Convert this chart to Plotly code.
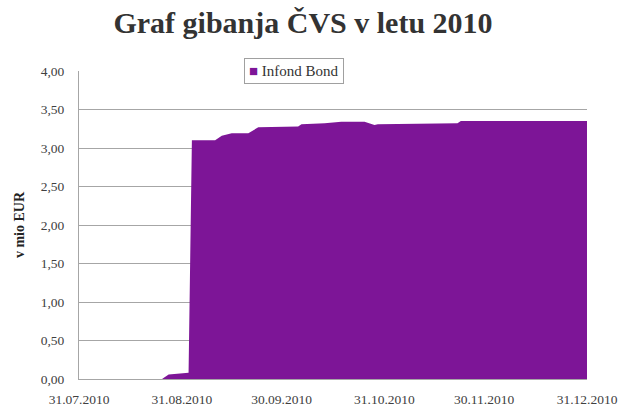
import plotly.graph_objects as go

# Net asset value of the fund (mio EUR) on selected dates of 2010
dates = [
    "2010-08-25", "2010-08-27", "2010-09-02", "2010-09-03", "2010-09-10",
    "2010-09-12", "2010-09-15", "2010-09-20", "2010-09-23", "2010-10-05",
    "2010-10-06", "2010-10-13", "2010-10-18", "2010-10-25", "2010-10-28",
    "2010-10-29", "2010-11-22", "2010-11-23", "2010-12-31",
]
values = [
    0.00, 0.06, 0.08, 3.10, 3.10,
    3.16, 3.19, 3.19, 3.27, 3.28,
    3.31, 3.32, 3.34, 3.34, 3.30,
    3.31, 3.32, 3.35, 3.35,
]

series_name = "Infond Bond"
title_text = "Graf gibanja ČVS v letu 2010"
y_title = "v mio EUR"

x_tick_dates = ["2010-07-31", "2010-08-31", "2010-09-30", "2010-10-31", "2010-11-30", "2010-12-31"]
x_tick_labels = ["31.07.2010", "31.08.2010", "30.09.2010", "31.10.2010", "30.11.2010", "31.12.2010"]
y_tick_values = [0, 0.5, 1.0, 1.5, 2.0, 2.5, 3.0, 3.5, 4.0]
y_tick_labels = ["0,00", "0,50", "1,00", "1,50", "2,00", "2,50", "3,00", "3,50", "4,00"]

purple = "#7D1597"
grid_grey = "#A6A6A6"
serif = "Liberation Serif, DejaVu Serif, serif"

fig = go.Figure()
fig.add_trace(go.Scatter(
    x=dates, y=values, name=series_name,
    mode="lines", fill="tozeroy",
    line=dict(width=0, color=purple),
    fillcolor=purple,
    showlegend=False,
    hoverinfo="skip",
))

# Boxed legend entry at the top of the plot area
fig.add_annotation(
    xref="paper", yref="paper", x=0.424, y=1.0,
    xanchor="center", yanchor="middle",
    text=f'<span style="color:{purple}">■</span> {series_name}',
    showarrow=False,
    font=dict(family=serif, size=15, color="#333333"),
    bgcolor="white", bordercolor="#A0A0A0", borderwidth=1, borderpad=4,
)

fig.update_layout(
    width=630, height=412,
    margin=dict(l=79, r=43, t=71, b=33),
    paper_bgcolor="white", plot_bgcolor="white",
    font=dict(family=serif, color="#404040"),
    title=dict(
        text="<b>" + title_text + "</b>", x=0.481, xanchor="center", y=0.945, yanchor="middle",
        font=dict(family=serif, size=30, color="#333333"),
    ),
    showlegend=False,
    hovermode=False,
)
fig.update_xaxes(
    type="date",
    range=["2010-07-31", "2010-12-31"],
    tickvals=x_tick_dates, ticktext=x_tick_labels,
    tickfont=dict(family=serif, size=13.5, color="#404040"),
    showgrid=False, showline=True, linecolor=grid_grey, linewidth=1,
    ticks="", ticklabelstandoff=8, zeroline=False, automargin=False,
)
fig.update_yaxes(
    range=[0, 4.0],
    tickvals=y_tick_values, ticktext=y_tick_labels,
    tickfont=dict(family=serif, size=13.5, color="#404040"),
    showgrid=True, gridcolor=grid_grey, gridwidth=1,
    showline=True, linecolor=grid_grey, linewidth=1,
    ticks="", ticklabelstandoff=11,
    zeroline=False, automargin=False,
    title=dict(text="<b>" + y_title + "</b>",
               font=dict(family=serif, size=14, color="#222222"), standoff=12),
)

fig.write_html("out.html")
